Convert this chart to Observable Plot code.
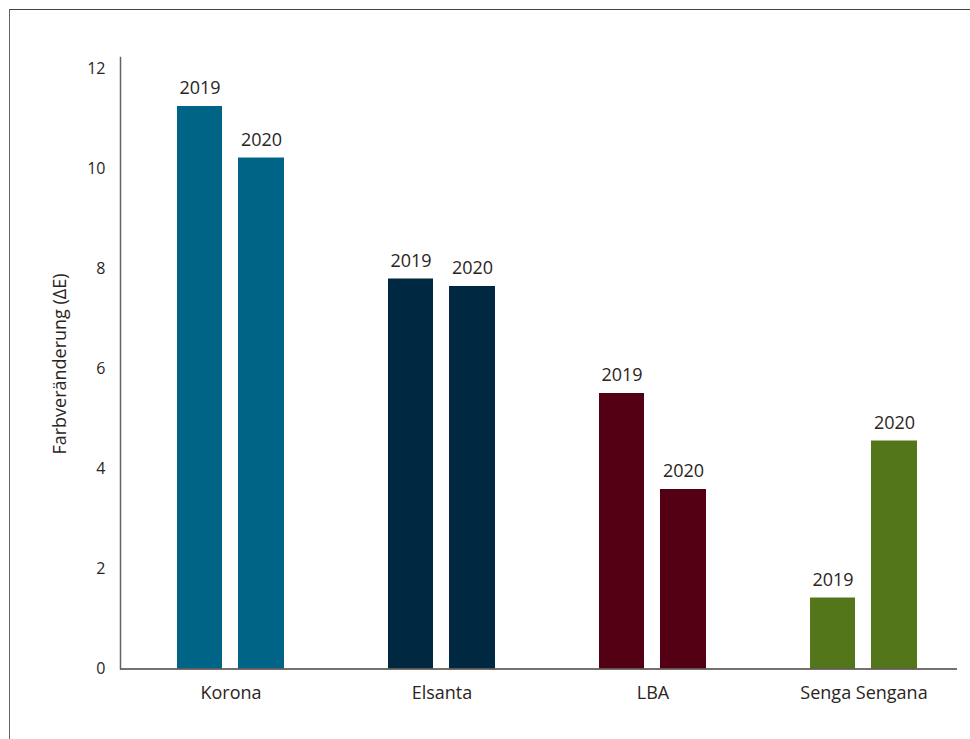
<!DOCTYPE html>
<html>
<head>
<meta charset="utf-8">
<script src="https://cdn.jsdelivr.net/npm/d3@7"></script>
<script src="https://cdn.jsdelivr.net/npm/@observablehq/plot@0.6"></script>
<style>
  html, body { margin: 0; padding: 0; background: #fff; }
  body { width: 970px; height: 739px; position: relative; overflow: hidden; font-family: "Open Sans", sans-serif; }
  #border { position: absolute; left: 9px; top: 9px; width: 980px; height: 760px;
            border-left: 1.6px solid #6a625c; border-top: 1.6px solid #4a423d; }
  #chart { position: absolute; left: 0; top: 0; }
  #ylabel { position: absolute; left: 59px; top: 364px; transform: translate(-50%, -50%) rotate(-90deg);
            white-space: nowrap; font-size: 18px; color: #2b2421; font-family: "Open Sans", sans-serif; }
</style>
</head>
<body>
<div id="border"></div>
<div id="chart"></div>
<div id="ylabel">Farbveränderung (ΔE)</div>
<script>
const categories = ["Korona", "Elsanta", "LBA", "Senga Sengana"];
const years = ["2019", "2020"];
const values2019 = [11.25, 7.80, 5.51, 1.42];
const values2020 = [10.22, 7.65, 3.59, 4.56];
const colors = ["#006487", "#002840", "#540014", "#54761a"];
const yTicks = [0, 2, 4, 6, 8, 10, 12];

const rows2019 = categories.map((c, i) => ({category: c, year: years[0], value: values2019[i]}));
const rows2020 = categories.map((c, i) => ({category: c, year: years[1], value: values2020[i]}));

const textColor = "#2b2421";

const chart = Plot.plot({
  width: 970,
  height: 739,
  marginLeft: 120,
  marginRight: 13,
  marginTop: 57,
  marginBottom: 70.5,
  style: {fontFamily: "'Open Sans', sans-serif", color: textColor, background: "transparent"},
  x: {domain: categories, range: [125, 969], padding: 0},
  y: {domain: [0, 12.23]},
  color: {domain: categories, range: colors},
  marks: [
    Plot.barY(rows2019, {x: "category", y: "value", fill: "category", insetLeft: 52, insetRight: 114}),
    Plot.barY(rows2020, {x: "category", y: "value", fill: "category", insetLeft: 113, insetRight: 52}),
    Plot.text(rows2019, {x: "category", y: "value", text: "year", dx: -31, dy: -18, fontSize: 18, fill: textColor}),
    Plot.text(rows2020, {x: "category", y: "value", text: "year", dx: 30.5, dy: -18, fontSize: 18, fill: textColor}),
    Plot.ruleY([0], {stroke: "#4a423d", strokeWidth: 1.5}),
    Plot.frame({anchor: "left", stroke: "#6a625c", strokeWidth: 1.5}),
    Plot.axisX({tickSize: 0, tickPadding: 17, fontSize: 18, label: null, fill: textColor}),
    Plot.axisY({ticks: yTicks, tickSize: 0, tickPadding: 15, fontSize: 16, label: null, tickFormat: d => String(d), fill: textColor})
  ]
});
document.getElementById("chart").appendChild(chart);
</script>
</body>
</html>
